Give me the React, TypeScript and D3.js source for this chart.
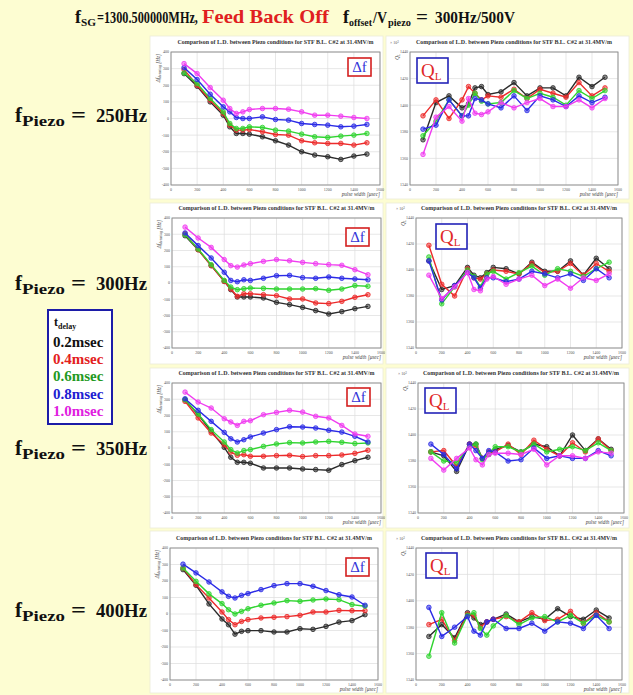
import React, { useLayoutEffect, useRef, useState } from "react";
import * as d3 from "d3";

// pulse widths [usec] where each point was taken
const pulseWidths = [100, 200, 300, 400, 450, 500, 550, 600, 700, 800, 900, 1000, 1100, 1200, 1300, 1400, 1500];
const delays = ["0.2msec", "0.4msec", "0.6msec", "0.8msec", "1.0msec"];
const piezoFreqs = ["250Hz", "300Hz", "350Hz", "400Hz"];
const xTicks = [0, 200, 400, 600, 800, 1000, 1200, 1400, 1600];
const dfTicks = [-400, -300, -200, -100, 0, 100, 200, 300, 400];
const qlTicks = [1340, 1360, 1380, 1400, 1420, 1440];

// Δf detuning [Hz], series order: 0.2, 0.4, 0.6, 0.8, 1.0 msec
const df250 = [
  [270, 194, 100, 20, -50, -90, -90, -94, -110, -134, -160, -200, -220, -230, -246, -226, -214],
  [294, 200, 110, 30, -40, -70, -70, -66, -80, -96, -100, -134, -146, -150, -150, -160, -146],
  [274, 210, 120, 40, -30, -60, -60, -50, -54, -70, -76, -94, -110, -114, -106, -100, -90],
  [306, 234, 146, 70, 40, 6, 0, 0, 10, -6, -10, -30, -36, -40, -50, -46, -36],
  [330, 270, 186, 110, 60, 30, 40, 54, 60, 60, 56, 40, 20, 20, 14, 6, 0],
];
const df300 = [
  [291, 205, 107, 10, -41, -86, -86, -86, -92, -119, -133, -150, -170, -191, -176, -158, -144],
  [303, 205, 107, 10, -37, -82, -66, -66, -72, -78, -98, -98, -123, -127, -113, -88, -72],
  [297, 209, 113, 16, -25, -41, -35, -31, -33, -37, -37, -37, -35, -45, -37, -16, -20],
  [308, 230, 154, 66, 16, 8, 20, 16, 29, 45, 47, 33, 29, 37, 29, 25, 20],
  [344, 277, 219, 144, 107, 98, 111, 119, 133, 144, 137, 127, 119, 113, 109, 82, 51],
];
const df350 = [
  [297, 205, 103, 4, -57, -88, -88, -94, -123, -123, -123, -129, -133, -137, -102, -78, -57],
  [287, 185, 92, 20, -25, -45, -41, -51, -51, -47, -45, -53, -47, -47, -43, -33, -14],
  [297, 209, 113, 37, -10, -31, -16, -10, 10, 25, 33, 31, 37, 41, 35, 27, 31],
  [303, 232, 164, 96, 57, 37, 51, 68, 92, 113, 131, 129, 123, 109, 98, 72, 37],
  [344, 283, 246, 180, 160, 139, 164, 168, 205, 219, 232, 221, 195, 185, 139, 86, 72],
];
const df400 = [
  [269, 174, 61, -30, -65, -122, -105, -101, -101, -109, -109, -89, -93, -75, -49, -40, -4],
  [279, 178, 97, 12, -34, -65, -45, -34, -24, -20, -16, -8, 12, 12, 22, 20, 20],
  [279, 198, 122, 63, 26, 0, 16, 32, 53, 67, 81, 77, 85, 91, 87, 57, 47],
  [302, 249, 194, 134, 107, 97, 113, 124, 148, 172, 184, 184, 168, 142, 117, 103, 53],
];

// loaded Q (x10^3), same series order
const ql250 = [
  [1374, 1402, 1407, 1398, 1401, 1413, 1414, 1408, 1410, 1417, 1407, 1413, 1413, 1407, 1421, 1414, 1421],
  [1392, 1404, 1390, 1404, 1414, 1409, 1404, 1407, 1406, 1412, 1405, 1412, 1409, 1406, 1417, 1407, 1413],
  [1377, 1388, 1404, 1392, 1400, 1409, 1403, 1401, 1402, 1411, 1405, 1409, 1406, 1400, 1411, 1405, 1411],
  [1382, 1385, 1404, 1392, 1392, 1405, 1404, 1401, 1398, 1407, 1396, 1407, 1404, 1399, 1407, 1402, 1406],
  [1363, 1391, 1399, 1388, 1405, 1394, 1393, 1395, 1402, 1398, 1402, 1405, 1399, 1399, 1404, 1398, 1405],
];
const ql300 = [
  [1407, 1385, 1388, 1402, 1396, 1394, 1398, 1402, 1401, 1397, 1406, 1399, 1399, 1407, 1396, 1409, 1401],
  [1419, 1389, 1380, 1401, 1394, 1393, 1397, 1400, 1399, 1397, 1405, 1398, 1399, 1405, 1396, 1405, 1399],
  [1410, 1374, 1387, 1400, 1395, 1387, 1397, 1399, 1393, 1398, 1403, 1396, 1401, 1399, 1395, 1401, 1406],
  [1407, 1377, 1388, 1398, 1394, 1386, 1394, 1394, 1391, 1393, 1399, 1397, 1394, 1397, 1392, 1401, 1394],
  [1396, 1378, 1387, 1398, 1385, 1384, 1393, 1395, 1389, 1393, 1396, 1388, 1393, 1386, 1394, 1392, 1397],
];
const ql350 = [
  [1387, 1384, 1372, 1393, 1393, 1382, 1385, 1389, 1392, 1387, 1393, 1391, 1384, 1400, 1388, 1397, 1389],
  [1387, 1388, 1376, 1393, 1391, 1382, 1387, 1387, 1393, 1385, 1396, 1389, 1384, 1394, 1387, 1397, 1388],
  [1387, 1380, 1379, 1391, 1393, 1381, 1386, 1391, 1391, 1387, 1393, 1387, 1389, 1391, 1388, 1394, 1388],
  [1393, 1385, 1374, 1393, 1388, 1382, 1388, 1387, 1380, 1381, 1390, 1382, 1384, 1382, 1382, 1388, 1384],
  [1382, 1373, 1382, 1390, 1381, 1377, 1385, 1386, 1386, 1385, 1389, 1377, 1384, 1384, 1382, 1387, 1386],
];
const ql400 = [
  [1373, 1382, 1372, 1391, 1387, 1382, 1384, 1386, 1390, 1384, 1388, 1386, 1394, 1388, 1386, 1393, 1387],
  [1382, 1386, 1370, 1390, 1389, 1380, 1384, 1386, 1388, 1384, 1391, 1385, 1386, 1392, 1383, 1391, 1384],
  [1358, 1391, 1368, 1389, 1391, 1379, 1374, 1381, 1389, 1382, 1387, 1388, 1384, 1389, 1383, 1389, 1384],
  [1395, 1373, 1380, 1388, 1377, 1374, 1384, 1386, 1379, 1379, 1383, 1377, 1384, 1383, 1379, 1389, 1379],
];

const dfRows = [df250, df300, df350, df400];
const qlRows = [ql250, ql300, ql350, ql400];

const lineColors = ["#2b2b2b", "#ec2b2b", "#2fd42f", "#2b2be6", "#f03cf0"];
const legendColors = ["#111111", "#e32020", "#1f9a1f", "#2020d2", "#e020e0"];

const serif = "'Liberation Serif', 'Times New Roman', serif";
const plotTitle = "Comparison of L.D. between Piezo conditions for STF B.L. C#2 at 31.4MV/m";

// per-row geometry of the slide
const rows = [
  { top: 36, bot: 199, pt: 52, pb: 185, lab: 122, df: [171, 380], ql: [410, 618], dfBox: [348, 58], qlBox: [417, 58] },
  { top: 203, bot: 364, pt: 218, pb: 348, lab: 290, df: [172, 381], ql: [416, 622], dfBox: [346, 228], qlBox: [436, 224] },
  { top: 368, bot: 528, pt: 383, pb: 513, lab: 455, df: [172, 381], ql: [418, 624], dfBox: [347, 388], qlBox: [425, 388] },
  { top: 531, bot: 693, pt: 548, pb: 680, lab: 617, df: [170, 378], ql: [416, 622], dfBox: [346, 558], qlBox: [426, 553] },
];

// a bold serif text piece scaled horizontally to fit a given width
function Seg({ x, y, w, size, fill = "#111", children }: any) {
  const ref = useRef<SVGTextElement>(null);
  const [sx, setSx] = useState(1);
  useLayoutEffect(() => {
    const n = ref.current ? ref.current.getComputedTextLength() : 0;
    if (n > 0) setSx(w / n);
  }, [w, size, children]);
  return (
    <text
      ref={ref}
      transform={`translate(${x},${y}) scale(${sx},1)`}
      fontFamily={serif}
      fontWeight="bold"
      fontSize={size}
      fill={fill}
    >
      {children}
    </text>
  );
}

function Plot({ r, kind }: { r: number; kind: "df" | "ql" }) {
  const L = rows[r];
  const isDf = kind === "df";
  const [x0, x1] = isDf ? L.df : L.ql;
  const x = d3.scaleLinear().domain([0, 1600]).range([x0, x1]);
  const y = d3
    .scaleLinear()
    .domain(isDf ? [-400, 400] : [1340, 1440])
    .range([L.pb, L.pt]);
  const yTicks = isDf ? dfTicks : qlTicks;
  const series = isDf ? dfRows[r] : qlRows[r];
  const line = d3
    .line<number>()
    .x((_, i) => x(pulseWidths[i]))
    .y((d) => y(d));
  const box = isDf ? L.dfBox : L.qlBox;
  const bw = isDf ? 23 : 31;
  const bh = isDf ? 18 : 25;

  return (
    <g>
      {/* panel background */}
      <rect
        x={isDf ? 150 : 386}
        y={L.top}
        width={isDf ? 233 : 243}
        height={L.bot - L.top}
        fill="#ffffff"
        stroke="#ecebd8"
        strokeWidth={0.8}
      />
      <text
        x={(x0 + x1) / 2}
        y={L.pt - 8}
        textAnchor="middle"
        fontFamily={serif}
        fontWeight="bold"
        fontSize={5.4}
        fill="#333"
        textLength={196}
        lengthAdjust="spacingAndGlyphs"
      >
        {plotTitle}
      </text>

      {/* grid */}
      {xTicks.map((t) => (
        <line key={"gx" + t} x1={x(t)} x2={x(t)} y1={L.pt} y2={L.pb} stroke="#dcdcdc" strokeWidth={0.7} />
      ))}
      {yTicks.map((t) => (
        <line key={"gy" + t} x1={x0} x2={x1} y1={y(t)} y2={y(t)} stroke="#dcdcdc" strokeWidth={0.7} />
      ))}
      <rect x={x0} y={L.pt} width={x1 - x0} height={L.pb - L.pt} fill="none" stroke="#8a8a8a" strokeWidth={0.9} />

      {/* tick labels */}
      {xTicks.map((t) => (
        <text key={"tx" + t} x={x(t)} y={L.pb + 5.5} textAnchor="middle" fontFamily={serif} fontSize={4} fill="#555">
          {t}
        </text>
      ))}
      {yTicks.map((t) => (
        <text key={"ty" + t} x={x0 - 2} y={y(t) + 1.4} textAnchor="end" fontFamily={serif} fontSize={4} fill="#555">
          {t}
        </text>
      ))}
      <text x={x1} y={L.pb + 11} textAnchor="end" fontFamily={serif} fontStyle="italic" fontSize={5.2} fill="#444">
        pulse width [μsec]
      </text>
      {isDf ? (
        <text
          transform={`translate(${x0 - 11},${L.pt + 2}) rotate(-90)`}
          textAnchor="end"
          fontFamily={serif}
          fontStyle="italic"
          fontSize={5.2}
          fill="#444"
        >
          Δf<tspan fontSize={3.6} dy={1.2}>detuning</tspan>
          <tspan dy={-1.2}> [Hz]</tspan>
        </text>
      ) : (
        <>
          <text transform={`translate(${x0 - 11},${L.pt + 2}) rotate(-90)`} textAnchor="end" fontFamily={serif} fontStyle="italic" fontSize={5.2} fill="#444">
            Q<tspan fontSize={3.6} dy={1.2}>L</tspan>
          </text>
          <text x={x0 - 20} y={L.pt - 8} fontFamily={serif} fontSize={4} fill="#555">
            × 10<tspan fontSize={3} dy={-1.5}>3</tspan>
          </text>
        </>
      )}

      {/* series */}
      {series.map((s, k) => (
        <g key={"s" + k}>
          <path d={line(s) || ""} fill="none" stroke={lineColors[k]} strokeWidth={1.4} />
          {s.map((v, i) => (
            <circle
              key={i}
              cx={x(pulseWidths[i])}
              cy={y(v)}
              r={2.3}
              fill={lineColors[k]}
              fillOpacity={0.55}
              stroke={lineColors[k]}
              strokeWidth={0.8}
            />
          ))}
        </g>
      ))}

      {/* boxed quantity tag */}
      <rect
        x={box[0]}
        y={box[1]}
        width={bw}
        height={bh}
        fill="#ffffff"
        stroke={isDf ? "#d42020" : "#2424b8"}
        strokeWidth={1.6}
      />
      {isDf ? (
        <text x={box[0] + bw / 2} y={box[1] + 14} textAnchor="middle" fontFamily={serif} fontSize={15} fill="#3535d8">
          Δf
        </text>
      ) : (
        <text x={box[0] + 4} y={box[1] + 19} fontFamily={serif} fontSize={19} fill="#e02828">
          Q<tspan fontSize={11} dy={3}>L</tspan>
        </text>
      )}
    </g>
  );
}

export default function App() {
  return (
    <svg
      width={633}
      height={695}
      style={{ position: "absolute", left: 0, top: 0, display: "block" }}
    >
      <rect x={0} y={0} width={633} height={695} fill="#fdfdd2" />

      {/* slide title, pieces fitted to the reference widths */}
      <Seg x={75} y={23} w={6} size={18}>f</Seg>
      <Seg x={81} y={26} w={15} size={11}>SG</Seg>
      <Seg x={97} y={23} w={101} size={17}>=1300.500000MHz,</Seg>
      <Seg x={202} y={23} w={127} size={18.5} fill="#e02020">Feed Back Off</Seg>
      <Seg x={343} y={23} w={6} size={18}>f</Seg>
      <Seg x={349} y={26} w={23} size={11}>offset</Seg>
      <Seg x={373} y={23} w={14} size={17}>/V</Seg>
      <Seg x={388} y={26} w={23} size={11}>piezo</Seg>
      <Seg x={416} y={23} w={12} size={18}>=</Seg>
      <Seg x={435} y={23} w={80} size={17.5}>300Hz/500V</Seg>

      {/* row labels */}
      {piezoFreqs.map((f, r) => (
        <g key={f}>
          <Seg x={15} y={rows[r].lab} w={7} size={20}>f</Seg>
          <Seg x={22} y={rows[r].lab + 4} w={43} size={14}>Piezo</Seg>
          <Seg x={71} y={rows[r].lab} w={15} size={20}>=</Seg>
          <Seg x={96} y={rows[r].lab} w={51} size={19}>{f}</Seg>
        </g>
      ))}

      {/* delay legend */}
      <rect x={48} y={310} width={64} height={114} fill="#ffffff" stroke="#1c1ca8" strokeWidth={2} />
      <text x={54} y={326} fontFamily={serif} fontWeight="bold" fontSize={12} fill="#111">
        t<tspan fontSize={8} dy={2.5}>delay</tspan>
      </text>
      {delays.map((d, k) => (
        <text key={d} x={53} y={347 + k * 17.2} fontFamily={serif} fontWeight="bold" fontSize={15} fill={legendColors[k]}>
          {d}
        </text>
      ))}

      {rows.map((_, r) => (
        <g key={"row" + r}>
          <Plot r={r} kind="df" />
          <Plot r={r} kind="ql" />
        </g>
      ))}
    </svg>
  );
}
